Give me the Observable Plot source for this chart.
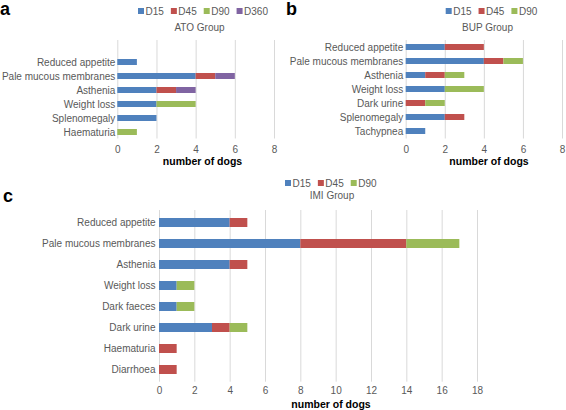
<!DOCTYPE html>
<html>
<head>
<meta charset="utf-8">
<script src="https://cdn.jsdelivr.net/npm/d3@7"></script>
<script src="https://cdn.jsdelivr.net/npm/@observablehq/plot@0.6"></script>
<style>
  html, body { margin: 0; padding: 0; background: #fff; }
  #root { position: relative; width: 566px; height: 410px; overflow: hidden; font-family: "Liberation Sans", Arial, Helvetica, sans-serif; }
  #root > svg, #root > div { position: absolute; }
</style>
</head>
<body>
<div id="root"></div>
<script>
// ---------- DATA ----------
const seriesNames = ["D15", "D45", "D90", "D360"];
const seriesColors = ["#4F81BD", "#C0504D", "#9BBB59", "#8064A2"];

// a: ATO Group
const atoCategories = ["Reduced appetite", "Pale mucous membranes", "Asthenia", "Weight loss", "Splenomegaly", "Haematuria"];
const atoD15  = [1, 4, 2, 2, 2, 0];
const atoD45  = [0, 1, 1, 0, 0, 0];
const atoD90  = [0, 0, 0, 2, 0, 1];
const atoD360 = [0, 1, 1, 0, 0, 0];
const atoTicks = [0, 2, 4, 6, 8];

// b: BUP Group
const bupCategories = ["Reduced appetite", "Pale mucous membranes", "Asthenia", "Weight loss", "Dark urine", "Splenomegaly", "Tachypnea"];
const bupD15 = [2, 4, 1, 2, 0, 2, 1];
const bupD45 = [2, 1, 1, 0, 1, 1, 0];
const bupD90 = [0, 1, 1, 2, 1, 0, 0];
const bupTicks = [0, 2, 4, 6, 8];

// c: IMI Group
const imiCategories = ["Reduced appetite", "Pale mucous membranes", "Asthenia", "Weight loss", "Dark faeces", "Dark urine", "Haematuria", "Diarrhoea"];
const imiD15 = [4, 8, 4, 1, 1, 3, 0, 0];
const imiD45 = [1, 6, 1, 0, 0, 1, 1, 1];
const imiD90 = [0, 3, 0, 1, 1, 1, 0, 0];
const imiTicks = [0, 2, 4, 6, 8, 10, 12, 14, 16, 18];

const xLabel = "number of dogs";

// ---------- HELPERS ----------
const FONT = '"Liberation Sans", Arial, Helvetica, sans-serif';
const root = document.getElementById("root");

function longData(cats, names, arrays) {
  const out = [];
  names.forEach((s, j) => cats.forEach((c, i) => {
    const v = arrays[j][i];
    if (v > 0) out.push({cat: c, series: s, value: v});
  }));
  return out;
}

function panel(o) {
  const data = longData(o.cats, o.names, o.arrays);
  const chart = Plot.plot({
    width: o.width, height: o.height,
    marginLeft: o.mL, marginRight: o.mR, marginTop: o.mT, marginBottom: o.mB,
    style: {fontFamily: FONT, fontSize: "10px", color: "#595959", background: "transparent", overflow: "visible"},
    x: {domain: [o.ticks[0], o.ticks[o.ticks.length - 1]]},
    y: {domain: o.cats, paddingInner: o.pI, paddingOuter: o.pO, align: o.align},
    color: {domain: seriesNames, range: seriesColors},
    marks: [
      Plot.gridX(o.ticks, {stroke: "#d9d9d9", strokeOpacity: 1, strokeWidth: 1}),
      Plot.barX(data, {x: "value", y: "cat", fill: "series"}),
      Plot.axisX(o.ticks, {tickSize: 0, tickPadding: o.tpX, label: null, fontSize: 10}),
      Plot.axisY({tickSize: 0, tickPadding: o.tpY, label: null, fontSize: 10})
    ]
  });
  chart.style.left = o.left + "px";
  chart.style.top = o.top + "px";
  root.appendChild(chart);
}

panel({cats: atoCategories, names: ["D15","D45","D90","D360"], arrays: [atoD15, atoD45, atoD90, atoD360],
  ticks: atoTicks, left: 0, top: 0, width: 283, height: 170, mL: 117.3, mR: 9, mT: 40, mB: 31.5,
  pI: 0.58, pO: 0.76, align: 0.83, tpX: 6.7, tpY: 2.5});

panel({cats: bupCategories, names: ["D15","D45","D90"], arrays: [bupD15, bupD45, bupD90],
  ticks: bupTicks, left: 283, top: 0, width: 283, height: 170, mL: 122.7, mR: 4, mT: 40, mB: 31.5,
  pI: 0.58, pO: 0.235, align: 0.5, tpX: 6.7, tpY: 3});

panel({cats: imiCategories, names: ["D15","D45","D90"], arrays: [imiD15, imiD45, imiD90],
  ticks: imiTicks, left: 0, top: 180, width: 566, height: 230, mL: 159, mR: 89, mT: 30, mB: 28.3,
  pI: 0.57, pO: 0.32, align: 0.5, tpX: 4.2, tpY: 4});

// ---------- ANNOTATIONS (letters, legends, titles, axis labels) ----------
const ov = d3.create("svg").attr("width", 566).attr("height", 410)
  .style("left", "0px").style("top", "0px").style("font-family", FONT);

function letter(t, x, y) {
  ov.append("text").attr("x", x).attr("y", y).attr("font-size", 18).attr("font-weight", "bold")
    .attr("fill", "#000").text(t);
}
function title(t, cx, cy) {
  ov.append("text").attr("x", cx).attr("y", cy).attr("text-anchor", "middle").attr("dy", "0.35em")
    .attr("font-size", 10).attr("fill", "#595959").text(t);
}
function axisTitle(cx, cy) {
  ov.append("text").attr("x", cx).attr("y", cy).attr("text-anchor", "middle").attr("dy", "0.35em")
    .attr("font-size", 10.5).attr("font-weight", "bold").attr("fill", "#000").text(xLabel);
}
function legend(names, x0, cy) {
  let x = x0;
  names.forEach(n => {
    const c = seriesColors[seriesNames.indexOf(n)];
    ov.append("rect").attr("x", x).attr("y", cy - 3).attr("width", 6).attr("height", 6).attr("fill", c);
    const t = ov.append("text").attr("x", x + 7.5).attr("y", cy).attr("dy", "0.35em")
      .attr("font-size", 10).attr("fill", "#595959").text(n);
    x += 7.5 + t.node().getComputedTextLength() + 7;
  });
}

root.appendChild(ov.node());

letter("a", 0, 15);
letter("b", 286, 15);
letter("c", 3, 202);

legend(["D15","D45","D90","D360"], 138, 11);
legend(["D15","D45","D90"], 445.7, 11);
legend(["D15","D45","D90"], 285, 183);

title("ATO Group", 199.5, 27.5);
title("BUP Group", 487.5, 27.5);
title("IMI Group", 332, 195);

axisTitle(202.5, 161.5);
axisTitle(489, 161.5);
axisTitle(331, 404.5);
</script>
</body>
</html>
